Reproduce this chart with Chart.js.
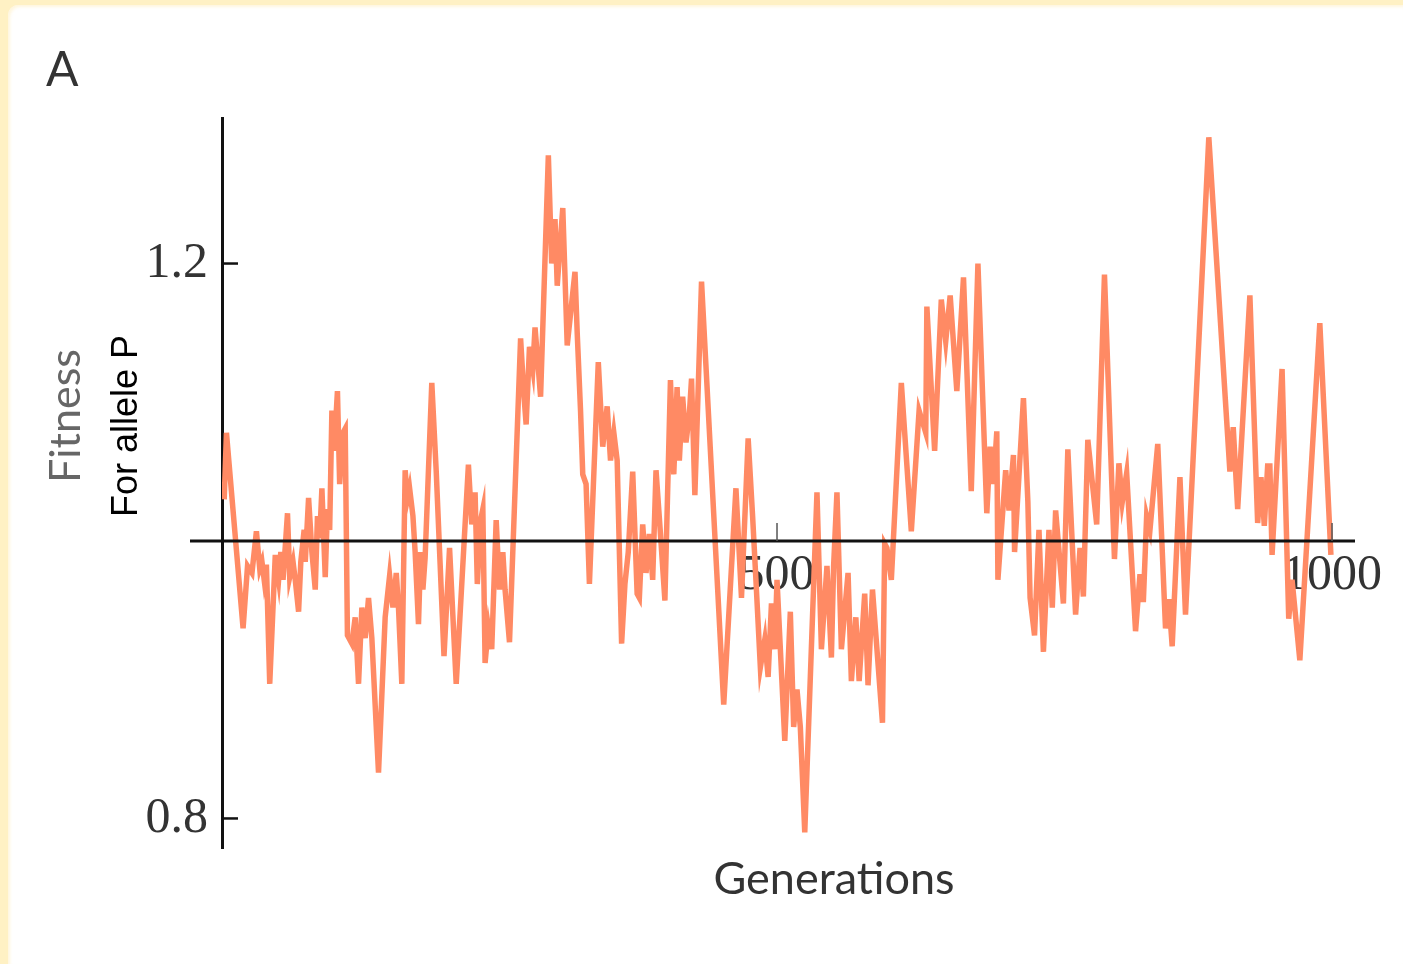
<!DOCTYPE html>
<html>
<head>
<meta charset="utf-8">
<script src="https://cdn.jsdelivr.net/npm/chart.js@4/dist/chart.umd.min.js"></script>
<style>
  html, body { margin: 0; padding: 0; }
  body { width: 1403px; height: 964px; background: #fff1c4; overflow: hidden; position: relative; }
  #panel { position: absolute; left: 8px; top: 5px; right: 0; bottom: 0; background: #ffffff;
           border-top-left-radius: 10px; box-shadow: inset 2px 2px 3px rgba(255,240,200,0.6); }
  #wrap { position: absolute; left: 0; top: 0; width: 1403px; height: 964px; }
  .lbl { position: absolute; white-space: nowrap; line-height: 1; }
  #panelLetter { left: 46px; top: 39px; font: 400 48px Lato, sans-serif; color: #333; }
  #xTitle { left: 834px; top: 850px; transform: translateX(-50%); font: 400 45px Lato, sans-serif; color: #333; }
  #yTitle { left: 63px; top: 416px; transform: translate(-50%, -50%) rotate(-90deg); font: 400 43px Lato, sans-serif; color: #666; }
  #ySub { left: 125px; top: 426px; transform: translate(-50%, -50%) rotate(-90deg); font: 400 36px "Liberation Sans", Arial, sans-serif; color: #000; }
</style>
</head>
<body>
<div id="panel"></div>
<div id="wrap"><canvas id="c" width="1403" height="964"></canvas></div>
<div class="lbl" id="panelLetter">A</div>
<div class="lbl" id="yTitle">Fitness</div>
<div class="lbl" id="ySub">For allele P</div>
<div class="lbl" id="xTitle">Generations</div>
<script>
// Generation at each vertex of the fitness trace
const generations = [
  2, 4, 19, 23, 27, 31, 34, 36, 38, 40, 43, 48, 51, 53, 55, 59, 61, 64, 66, 69,
  71, 74, 75, 78, 81, 84, 86, 88, 90, 93, 95, 97, 99, 101, 104, 106, 109, 111, 113, 117,
  120, 123, 126, 129, 132, 135, 141, 147, 151, 154, 157, 159, 162, 165, 167, 169, 172, 174, 177, 179,
  181, 183, 189, 193, 200, 205, 211, 222, 225, 228, 230, 233, 235, 237, 240, 243, 247, 250, 253, 255,
  259, 269, 272, 274, 277, 280, 282, 287, 294, 297, 300, 302, 307, 311, 318, 320, 323, 325, 328, 331,
  339, 343, 347, 350, 353, 356, 360, 363, 366, 370, 374, 376, 379, 382, 385, 388, 391, 395, 399, 404,
  407, 410, 412, 415, 418, 421, 423, 426, 432, 452, 463, 468, 474, 478, 481, 485, 489, 492, 495, 498,
  500, 507, 512, 515, 518, 521, 525, 536, 540, 545, 549, 551, 554, 558, 564, 567, 571, 574, 579, 582,
  586, 595, 597, 599, 603, 612, 621, 628, 634, 635, 642, 648, 652, 656, 662, 668, 675, 681, 689, 692,
  695, 698, 699, 706, 709, 713, 714, 722, 726, 728, 732, 736, 740, 745, 748, 751, 758, 762, 769, 773,
  776, 780, 788, 795, 804, 808, 811, 815, 823, 827, 830, 833, 836, 843, 850, 853, 856, 863, 868, 889,
  908, 911, 915, 926, 933, 936, 939, 942, 944, 946, 955, 961, 964, 971, 989, 999
];

// Fitness of allele P at each of those generations
const fitness = [
  1.030, 1.078, 0.937, 0.982, 0.977, 1.007, 0.980, 0.985, 0.972, 0.983, 0.897, 0.990, 0.972, 0.992, 0.972, 1.020, 0.974, 0.985, 0.972, 0.949,
  0.985, 1.008, 0.985, 1.031, 0.992, 0.965, 1.018, 1.002, 1.038, 0.974, 1.023, 1.008, 1.094, 1.065, 1.108, 1.041, 1.078, 1.081, 0.932, 0.926,
  0.945, 0.897, 0.952, 0.930, 0.959, 0.930, 0.833, 0.945, 0.975, 0.952, 0.977, 0.952, 0.897, 1.051, 1.030, 1.038, 1.018, 0.992, 0.940, 0.992,
  0.965, 0.988, 1.114, 1.050, 0.917, 0.995, 0.897, 1.055, 1.012, 1.035, 0.969, 1.015, 1.023, 0.912, 0.938, 0.922, 1.015, 0.965, 0.992, 0.965,
  0.927, 1.146, 1.105, 1.084, 1.140, 1.124, 1.154, 1.104, 1.278, 1.200, 1.232, 1.184, 1.240, 1.141, 1.194, 1.150, 1.094, 1.048, 1.041, 0.969,
  1.129, 1.068, 1.097, 1.058, 1.078, 1.058, 0.926, 0.969, 0.992, 1.050, 0.962, 0.959, 1.012, 0.977, 1.005, 0.972, 1.051, 1.005, 0.957, 1.116,
  1.048, 1.111, 1.058, 1.104, 1.071, 1.091, 1.117, 1.033, 1.187, 0.882, 1.038, 0.959, 1.074, 1.018, 0.972, 0.909, 0.929, 0.902, 0.955, 0.922,
  0.972, 0.856, 0.949, 0.866, 0.893, 0.866, 0.790, 1.035, 0.922, 0.982, 0.916, 0.982, 1.035, 0.922, 0.977, 0.899, 0.945, 0.899, 0.962, 0.896,
  0.965, 0.869, 0.998, 0.995, 0.972, 1.114, 1.007, 1.094, 1.078, 1.169, 1.065, 1.174, 1.144, 1.177, 1.108, 1.190, 1.036, 1.200, 1.020, 1.068,
  1.041, 1.079, 0.972, 1.051, 1.022, 1.062, 0.992, 1.103, 1.028, 0.959, 0.932, 1.008, 0.920, 1.008, 0.952, 1.022, 0.955, 1.066, 0.947, 0.995,
  0.960, 1.073, 1.012, 1.192, 0.987, 1.056, 1.028, 1.049, 0.935, 0.976, 0.956, 1.018, 1.008, 1.070, 0.937, 0.958, 0.924, 1.046, 0.947, 1.291,
  1.050, 1.082, 1.023, 1.177, 1.013, 1.046, 1.011, 1.054, 1.054, 0.990, 1.124, 0.944, 0.972, 0.914, 1.157, 0.990
];

// Labelled tick positions on each axis
const xTickValues = [500, 1000];
const yTickValues = [0.8, 1.2];
const baselineFitness = 1.0;

const points = generations.map((g, i) => ({ x: g, y: fitness[i] }));

const INK = '#111111';

// Draws the baseline axis (extending a little left of the y axis) on top of the trace,
// plus the short inward tick marks on both axes.
const axisMarks = {
  id: 'axisMarks',
  afterDatasetsDraw(chart) {
    const { ctx, chartArea, scales: { x, y } } = chart;
    const yBase = y.getPixelForValue(baselineFitness);
    ctx.save();
    ctx.strokeStyle = INK;
    ctx.lineCap = 'butt';
    ctx.lineWidth = 3;
    ctx.beginPath();
    ctx.moveTo(chartArea.left - 32, yBase);
    ctx.lineTo(chartArea.right, yBase);
    ctx.stroke();
    // y ticks pointing into the plot
    ctx.lineWidth = 2.5;
    y.ticks.forEach(t => {
      const py = y.getPixelForValue(t.value);
      ctx.beginPath();
      ctx.moveTo(chartArea.left, py);
      ctx.lineTo(chartArea.left + 16, py);
      ctx.stroke();
    });
    // x ticks rising from the baseline
    ctx.lineWidth = 1.5;
    ctx.strokeStyle = '#555';
    x.ticks.forEach(t => {
      const px = x.getPixelForValue(t.value);
      ctx.beginPath();
      ctx.moveTo(px, yBase);
      ctx.lineTo(px, yBase - 18);
      ctx.stroke();
    });
    ctx.restore();
  }
};

new Chart(document.getElementById('c'), {
  type: 'line',
  data: {
    datasets: [{
      data: points,
      borderColor: '#ff8a64',
      borderWidth: 5.5,
      pointRadius: 0,
      tension: 0,
      fill: false,
      borderJoinStyle: 'miter'
    }]
  },
  options: {
    responsive: false,
    animation: false,
    events: [],
    layout: { padding: { left: 0, right: 48, top: 118, bottom: 116 } },
    plugins: { legend: { display: false }, tooltip: { enabled: false } },
    scales: {
      x: {
        type: 'linear',
        position: { y: baselineFitness },
        min: 0,
        max: 1020.7,
        afterBuildTicks(scale) { scale.ticks = xTickValues.map(v => ({ value: v })); },
        grid: { display: false, drawTicks: false },
        border: { display: false },
        ticks: {
          padding: 5,
          color: '#333',
          font: { family: '"Liberation Serif", "Times New Roman", serif', size: 50 },
          maxRotation: 0,
          autoSkip: false,
          callback: v => String(v)
        }
      },
      y: {
        type: 'linear',
        position: 'left',
        min: 0.7787,
        max: 1.3049,
        afterFit(scale) { scale.width = 222; },
        afterBuildTicks(scale) { scale.ticks = yTickValues.map(v => ({ value: v })); },
        grid: { display: false, drawTicks: false },
        border: { display: true, color: INK, width: 3 },
        ticks: {
          padding: 14,
          color: '#333',
          font: { family: '"Liberation Serif", "Times New Roman", serif', size: 50 },
          autoSkip: false,
          callback: v => v.toFixed(1)
        }
      }
    }
  },
  plugins: [axisMarks]
});
</script>
</body>
</html>
